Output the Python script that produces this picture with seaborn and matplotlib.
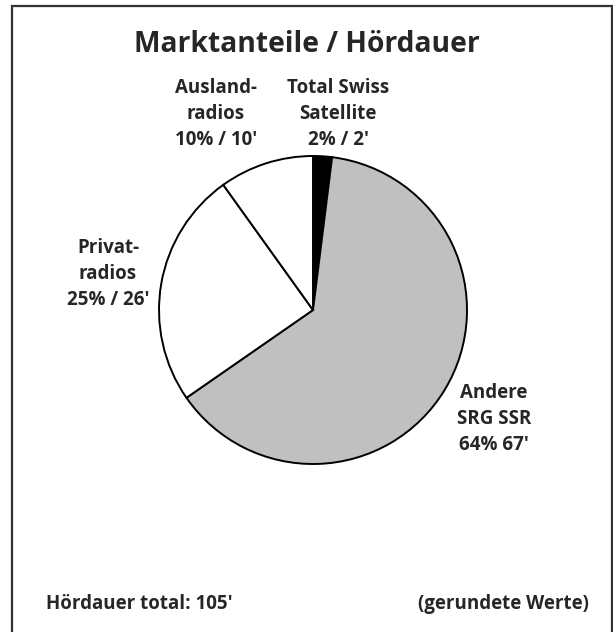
import matplotlib
matplotlib.use("Agg")
import matplotlib.pyplot as plt
from matplotlib.patches import Rectangle
import seaborn as sns

# slices clockwise from 12 o'clock
labels = ["Total Swiss\nSatellite", "Andere\nSRG SSR", "Privat-\nradios", "Ausland-\nradios"]
shares = [2, 64, 25, 10]          # Marktanteil in %
minutes = [2, 67, 26, 10]         # Hördauer in Minuten
colors = ["#000000", "#c0c0c0", "#ffffff", "#ffffff"]
total_minutes = 105

sns.set_style("white")
plt.rcParams["font.family"] = ["Open Sans", "DejaVu Sans"]

W, H = 613, 632
fig = plt.figure(figsize=(W / 100, H / 100), dpi=100)


def fx(px):
    return px / W


def fy(py):
    return 1 - py / H


# frame round the chart (bottom edge runs off the picture)
fig.patches.append(Rectangle((fx(12), fy(645)), fx(611.5) - fx(12), fy(6) - fy(645),
                             transform=fig.transFigure, fill=False,
                             edgecolor="#333333", lw=1.6))

# pie
cx, cy, r = 313, 310, 154
ax = fig.add_axes([fx(cx - r), fy(cy + r), 2 * r / W, 2 * r / H])
ax.pie(shares, colors=colors, startangle=90, counterclock=False,
       wedgeprops=dict(edgecolor="black", linewidth=1.4))
ax.set_aspect("equal")
ax.set_xlim(-1.0, 1.0)
ax.set_ylim(-1.0, 1.0)
ax.axis("off")

fig.text(fx(307), fy(45), "Marktanteile / Hördauer", ha="center", va="center",
         fontsize=20.3, fontweight="bold")

# slice labels
label_pos = [(338, 114), (494, 419), (108, 274), (216, 114)]
for lab, s, m, (px, py) in zip(labels, shares, minutes, label_pos):
    sep = " " if s == 64 else " / "
    fig.text(fx(px), fy(py), f"{lab}\n{s}%{sep}{m}'", ha="center", va="center",
             fontsize=13.5, fontweight="bold", linespacing=1.38)

fig.text(fx(46), fy(604), f"Hördauer total: {total_minutes}'", ha="left", va="center",
         fontsize=13.5, fontweight="bold")
fig.text(fx(589), fy(604), "(gerundete Werte)", ha="right", va="center",
         fontsize=13.5, fontweight="bold")

fig.savefig("out.png", dpi=100)
